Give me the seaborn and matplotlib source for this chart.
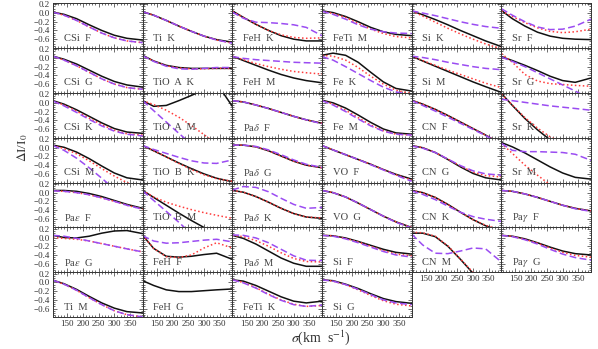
import matplotlib
matplotlib.use("Agg")
import matplotlib.pyplot as plt
import pandas as pd
import seaborn as sns
from matplotlib.ticker import MultipleLocator

# ---------------- data ----------------
SIGMA = [105, 140, 180, 220, 260, 300, 340, 390]

PANELS = [
    ["CSi F", "Ti K", "FeH K", "FeTi M", "Si K", "Sr F"],
    ["CSi G", "TiO A K", "FeH M", "Fe K", "Si M", "Sr G"],
    ["CSi K", "TiO A M", "Paδ F", "Fe M", "CN F", "Sr K"],
    ["CSi M", "TiO B K", "Paδ G", "VO F", "CN G", "Sr M"],
    ["Paε F", "TiO B M", "Paδ K", "VO G", "CN K", "Paγ F"],
    ["Paε G", "FeH F", "Paδ M", "Si F", "CN M", "Paγ G"],
    ["Ti M", "FeH G", "FeTi K", "Si G", None, None],
]

BLACK = {
    "CSi F":   [0.02, -0.03, -0.13, -0.27, -0.40, -0.51, -0.58, -0.62],
    "Ti K":    [0.03, -0.05, -0.17, -0.30, -0.42, -0.53, -0.61, -0.67],
    "FeH K":   [0.05, -0.10, -0.26, -0.40, -0.52, -0.60, -0.64, -0.64],
    "FeTi M":  [0.05, 0.01, -0.08, -0.20, -0.33, -0.43, -0.49, -0.52],
    "Si K":    [0.05, -0.04, -0.15, -0.27, -0.40, -0.52, -0.64, -0.77],
    "Sr F":    [0.06, -0.13, -0.30, -0.44, -0.53, -0.58, -0.60, -0.61],
    "CSi G":   [0.04, -0.03, -0.14, -0.28, -0.42, -0.54, -0.62, -0.67],
    "TiO A K": [0.06, -0.07, -0.17, -0.22, -0.24, -0.24, -0.24, -0.24],
    "FeH M":   [0.04, -0.06, -0.17, -0.28, -0.38, -0.46, -0.52, -0.57],
    "Fe K":    [0.06, 0.11, 0.06, -0.10, -0.33, -0.55, -0.70, -0.76],
    "Si M":    [0.04, -0.07, -0.19, -0.31, -0.43, -0.55, -0.66, -0.79],
    "Sr G":    [0.03, -0.06, -0.17, -0.29, -0.42, -0.52, -0.56, -0.46],
    "CSi K":   [0.05, -0.03, -0.16, -0.31, -0.46, -0.59, -0.67, -0.70],
    "TiO A M": [0.05, -0.08, -0.06, 0.05, 0.17, 0.30, 0.45, -0.08],
    "Paδ F":   [0.05, 0.02, -0.05, -0.13, -0.22, -0.31, -0.39, -0.47],
    "Fe M":    [0.06, 0.00, -0.12, -0.28, -0.45, -0.60, -0.69, -0.72],
    "CN F":    [0.06, -0.03, -0.15, -0.29, -0.44, -0.59, -0.74, -0.95],
    "Sr K":    [0.22, -0.06, -0.36, -0.62, -0.85, -1.05, -1.20, -1.40],
    "CSi M":   [0.06, 0.01, -0.10, -0.25, -0.42, -0.58, -0.69, -0.74],
    "TiO B K": [0.05, -0.07, -0.21, -0.35, -0.48, -0.60, -0.70, -0.78],
    "Paδ G":   [0.06, 0.06, 0.02, -0.07, -0.19, -0.31, -0.40, -0.46],
    "VO F":    [0.05, -0.05, -0.16, -0.27, -0.38, -0.50, -0.61, -0.72],
    "CN G":    [0.05, 0.00, -0.11, -0.27, -0.44, -0.59, -0.69, -0.74],
    "Sr M":    [0.12, 0.02, -0.12, -0.28, -0.44, -0.58, -0.68, -0.72],
    "Paε F":   [0.05, 0.05, 0.03, -0.02, -0.09, -0.18, -0.27, -0.36],
    "TiO B M": [0.05, -0.11, -0.29, -0.47, -0.64, -0.80, -0.96, -1.15],
    "Paδ K":   [0.05, 0.01, -0.09, -0.22, -0.36, -0.48, -0.56, -0.59],
    "VO G":    [0.05, 0.00, -0.10, -0.24, -0.39, -0.54, -0.67, -0.80],
    "CN K":    [0.05, 0.00, -0.11, -0.27, -0.45, -0.62, -0.76, -0.90],
    "Paγ F":   [0.05, 0.03, -0.03, -0.11, -0.20, -0.29, -0.36, -0.42],
    "Paε G":   [0.05, 0.00, -0.01, 0.03, 0.10, 0.15, 0.16, 0.09],
    "FeH F":   [0.05, -0.25, -0.43, -0.45, -0.43, -0.39, -0.36, -0.50],
    "Paδ M":   [0.05, -0.02, -0.15, -0.31, -0.47, -0.59, -0.66, -0.66],
    "Si F":    [0.05, 0.04, -0.01, -0.09, -0.18, -0.27, -0.34, -0.38],
    "CN M":    [0.10, 0.10, 0.02, -0.20, -0.50, -0.82, -1.15, -1.50],
    "Paγ G":   [0.05, 0.03, -0.03, -0.12, -0.22, -0.31, -0.37, -0.40],
    "Ti M":    [0.05, -0.03, -0.16, -0.32, -0.47, -0.59, -0.67, -0.70],
    "FeH G":   [0.04, -0.07, -0.17, -0.21, -0.21, -0.19, -0.17, -0.15],
    "FeTi K":  [0.06, 0.03, -0.07, -0.20, -0.33, -0.43, -0.47, -0.43],
    "Si G":    [0.06, 0.04, -0.04, -0.14, -0.26, -0.37, -0.44, -0.48],
}

RED = {
    "CSi F":   [0.02, -0.05, -0.17, -0.32, -0.46, -0.57, -0.64, -0.68],
    "Ti K":    [0.03, -0.05, -0.17, -0.30, -0.42, -0.53, -0.62, -0.69],
    "FeH K":   [0.04, -0.10, -0.26, -0.40, -0.50, -0.56, -0.58, -0.57],
    "FeTi M":  [0.04, -0.01, -0.10, -0.24, -0.37, -0.47, -0.54, -0.57],
    "Si K":    [0.05, -0.07, -0.21, -0.35, -0.48, -0.60, -0.71, -0.82],
    "Sr F":    [0.05, -0.08, -0.22, -0.34, -0.42, -0.45, -0.43, -0.37],
    "CSi G":   [0.04, -0.05, -0.18, -0.33, -0.48, -0.60, -0.68, -0.72],
    "TiO A K": [0.05, -0.07, -0.18, -0.23, -0.25, -0.25, -0.24, -0.24],
    "FeH M":   [0.04, -0.04, -0.13, -0.20, -0.26, -0.31, -0.34, -0.37],
    "Fe K":    [0.06, 0.04, -0.05, -0.22, -0.42, -0.60, -0.74, -0.82],
    "Si M":    [0.04, -0.06, -0.17, -0.28, -0.38, -0.48, -0.58, -0.68],
    "Sr G":    [0.10, -0.10, -0.38, -0.53, -0.59, -0.61, -0.63, -0.65],
    "CSi K":   [0.04, -0.05, -0.19, -0.35, -0.50, -0.63, -0.71, -0.74],
    "TiO A M": [0.05, -0.04, -0.17, -0.33, -0.52, -0.73, -0.95, -1.20],
    "Paδ F":   [0.05, 0.02, -0.05, -0.13, -0.22, -0.31, -0.39, -0.47],
    "Fe M":    [0.05, -0.03, -0.17, -0.34, -0.51, -0.64, -0.72, -0.74],
    "CN F":    [0.06, -0.03, -0.15, -0.29, -0.44, -0.59, -0.74, -0.95],
    "Sr K":    [0.20, -0.05, -0.34, -0.58, -0.78, -0.92, -1.05, -1.20],
    "CSi M":   [0.05, -0.02, -0.14, -0.30, -0.48, -0.65, -0.80, -0.95],
    "TiO B K": [0.05, -0.07, -0.21, -0.36, -0.50, -0.62, -0.71, -0.77],
    "Paδ G":   [0.06, 0.06, 0.02, -0.07, -0.19, -0.31, -0.40, -0.46],
    "VO F":    [0.05, -0.05, -0.16, -0.27, -0.38, -0.50, -0.62, -0.74],
    "CN G":    [0.05, 0.00, -0.11, -0.26, -0.42, -0.56, -0.64, -0.67],
    "Sr M":    [0.10, -0.13, -0.40, -0.63, -0.85, -1.05, -1.20, -1.40],
    "Paε F":   [0.04, 0.03, 0.00, -0.05, -0.12, -0.20, -0.29, -0.38],
    "TiO B M": [0.05, -0.10, -0.22, -0.31, -0.39, -0.46, -0.52, -0.59],
    "Paδ K":   [0.05, 0.01, -0.09, -0.22, -0.36, -0.48, -0.56, -0.58],
    "VO G":    [0.05, 0.00, -0.10, -0.24, -0.39, -0.54, -0.67, -0.80],
    "CN K":    [0.05, 0.00, -0.11, -0.27, -0.45, -0.62, -0.75, -0.86],
    "Paγ F":   [0.05, 0.03, -0.03, -0.11, -0.20, -0.29, -0.36, -0.42],
    "Paε G":   [0.00, -0.02, -0.04, -0.08, -0.14, -0.20, -0.26, -0.33],
    "FeH F":   [0.05, -0.25, -0.44, -0.46, -0.40, -0.24, -0.12, -0.24],
    "Paδ M":   [0.05, 0.02, -0.07, -0.20, -0.35, -0.48, -0.55, -0.56],
    "Si F":    [0.05, 0.04, -0.02, -0.10, -0.20, -0.30, -0.38, -0.42],
    "CN M":    [0.12, 0.11, 0.03, -0.19, -0.49, -0.80, -1.10, -1.45],
    "Paγ G":   [0.05, 0.03, -0.04, -0.13, -0.24, -0.34, -0.41, -0.45],
    "Ti M":    [0.05, -0.04, -0.18, -0.35, -0.51, -0.65, -0.74, -0.79],
    "FeTi K":  [0.06, 0.00, -0.12, -0.27, -0.40, -0.50, -0.55, -0.53],
    "Si G":    [0.06, 0.03, -0.05, -0.17, -0.30, -0.42, -0.50, -0.54],
}

PURPLE = {
    "CSi F":   [0.02, -0.05, -0.17, -0.32, -0.46, -0.57, -0.64, -0.68],
    "Ti K":    [0.03, -0.05, -0.17, -0.30, -0.42, -0.53, -0.62, -0.69],
    "FeH K":   [0.02, -0.12, -0.21, -0.22, -0.24, -0.27, -0.33, -0.52],
    "FeTi M":  [0.04, -0.03, -0.14, -0.27, -0.37, -0.43, -0.46, -0.47],
    "Si K":    [0.05, 0.00, -0.06, -0.13, -0.20, -0.26, -0.31, -0.35],
    "Sr F":    [0.10, -0.05, -0.20, -0.32, -0.38, -0.37, -0.30, -0.14],
    "CSi G":   [0.04, -0.05, -0.18, -0.33, -0.48, -0.60, -0.68, -0.72],
    "TiO A K": [0.05, -0.08, -0.19, -0.25, -0.26, -0.24, -0.22, -0.22],
    "FeH M":   [0.03, -0.01, -0.04, -0.06, -0.08, -0.10, -0.11, -0.12],
    "Fe K":    [0.03, -0.05, -0.20, -0.36, -0.52, -0.67, -0.78, -0.85],
    "Si M":    [0.04, 0.01, -0.04, -0.10, -0.15, -0.20, -0.24, -0.27],
    "Sr G":    [0.02, -0.08, -0.20, -0.34, -0.48, -0.62, -0.76, -0.95],
    "CSi K":   [0.04, -0.07, -0.22, -0.38, -0.53, -0.65, -0.72, -0.76],
    "TiO A M": [0.05, -0.18, -0.44, -0.70, -0.95, -1.20, -1.45, -1.75],
    "Paδ F":   [0.05, 0.02, -0.05, -0.13, -0.22, -0.31, -0.39, -0.48],
    "Fe M":    [0.05, -0.05, -0.20, -0.37, -0.53, -0.65, -0.72, -0.74],
    "CN F":    [0.05, -0.06, -0.19, -0.33, -0.47, -0.61, -0.75, -0.95],
    "Sr K":    [0.08, 0.05, 0.01, -0.03, -0.07, -0.10, -0.13, -0.17],
    "CSi M":   [0.05, -0.06, -0.24, -0.46, -0.70, -0.95, -1.20, -1.50],
    "TiO B K": [0.05, -0.04, -0.13, -0.22, -0.30, -0.35, -0.36, -0.28],
    "Paδ G":   [0.06, 0.06, 0.03, -0.05, -0.16, -0.28, -0.38, -0.45],
    "VO F":    [0.05, -0.05, -0.16, -0.27, -0.39, -0.51, -0.63, -0.77],
    "CN G":    [0.04, -0.01, -0.11, -0.26, -0.41, -0.53, -0.60, -0.63],
    "Sr M":    [0.10, -0.06, -0.09, -0.09, -0.10, -0.11, -0.15, -0.29],
    "Paε F":   [0.04, 0.03, 0.00, -0.05, -0.12, -0.20, -0.29, -0.38],
    "TiO B M": [0.04, -0.18, -0.43, -0.68, -0.95, -1.20, -1.45, -1.80],
    "Paδ K":   [0.06, 0.14, 0.12, 0.02, -0.13, -0.27, -0.36, -0.34],
    "VO G":    [0.05, 0.00, -0.10, -0.24, -0.39, -0.54, -0.68, -0.81],
    "CN K":    [0.04, -0.04, -0.16, -0.31, -0.45, -0.55, -0.61, -0.66],
    "Paγ F":   [0.05, 0.03, -0.03, -0.11, -0.20, -0.29, -0.37, -0.43],
    "Paε G":   [0.05, 0.03, -0.02, -0.08, -0.14, -0.20, -0.26, -0.33],
    "FeH F":   [0.04, -0.08, -0.13, -0.12, -0.09, -0.06, -0.04, -0.10],
    "Paδ M":   [0.06, 0.05, -0.01, -0.12, -0.27, -0.42, -0.52, -0.53],
    "Si F":    [0.05, 0.03, -0.03, -0.12, -0.22, -0.32, -0.40, -0.45],
    "CN M":    [0.08, -0.17, -0.36, -0.37, -0.31, -0.24, -0.26, -0.56],
    "Paγ G":   [0.05, 0.02, -0.05, -0.15, -0.27, -0.38, -0.46, -0.52],
    "Ti M":    [0.05, -0.04, -0.18, -0.35, -0.51, -0.65, -0.74, -0.79],
    "FeTi K":  [0.06, -0.01, -0.13, -0.28, -0.41, -0.51, -0.55, -0.52],
    "Si G":    [0.06, 0.03, -0.05, -0.16, -0.28, -0.40, -0.47, -0.51],
}

X_TICKS = [150, 200, 250, 300, 350]
Y_TICKS = [-0.6, -0.4, -0.2, 0.0, 0.2]

# ---------------- style ----------------
sns.set_style("ticks")
plt.rcParams["font.family"] = ["Liberation Serif", "DejaVu Serif"]
plt.rcParams["mathtext.fontset"] = "stix"

COLORS = {"black": "#111111", "red": "#ff3b3b", "purple": "#9b4cf2"}
DASHES = {"black": "", "red": (1, 1.6), "purple": (4.5, 2.2)}

W, H = 598, 349
fig = plt.figure(figsize=(W / 100, H / 100), dpi=100)

LEFT, RIGHT, TOP, ROWH = 53, 591, 3, 44.9
COLW = (RIGHT - LEFT) / 6
XLIM = (105, 390)
YLIM = (-0.8, 0.23)


def pretty(name):
    name = name.replace("δ", r"$\delta$").replace("ε", r"$\epsilon$").replace("γ", r"$\gamma$")
    return name.replace(" ", "  ")


nrows = len(PANELS)
for r, row in enumerate(PANELS):
    for c, name in enumerate(row):
        if name is None:
            continue
        x0 = LEFT + c * COLW
        y0 = TOP + (r + 1) * ROWH
        ax = fig.add_axes([x0 / W, 1 - y0 / H, COLW / W, ROWH / H])
        frames = []
        for key, table in (("black", BLACK), ("red", RED), ("purple", PURPLE)):
            if name in table:
                frames.append(pd.DataFrame({"sigma": SIGMA, "dI": table[name], "model": key}))
        df = pd.concat(frames, ignore_index=True)
        models = list(df["model"].unique())
        sns.lineplot(data=df, x="sigma", y="dI", hue="model", style="model",
                     palette={m: COLORS[m] for m in models},
                     dashes={m: DASHES[m] for m in models},
                     hue_order=models, style_order=models,
                     linewidth=1.1, legend=False, ax=ax, sort=False)
        ax.set_xlim(*XLIM)
        ax.set_ylim(*YLIM)
        ax.set_xlabel("")
        ax.set_ylabel("")
        ax.set_xticks(X_TICKS)
        ax.set_yticks(Y_TICKS)
        ax.xaxis.set_minor_locator(MultipleLocator(10))
        ax.yaxis.set_minor_locator(MultipleLocator(0.05))
        ax.tick_params(which="both", direction="in", top=True, right=True,
                       width=0.5, colors="#333333", labelsize=6.5, pad=2)
        ax.tick_params(which="major", length=3)
        ax.tick_params(which="minor", length=1.5)
        for s in ax.spines.values():
            s.set_linewidth(0.7)
            s.set_color("#333333")
        last_in_col = (r == nrows - 1) or (PANELS[r + 1][c] is None)
        if last_in_col:
            ax.set_xticklabels([str(t) for t in X_TICKS])
        else:
            ax.set_xticklabels([])
        if c == 0:
            ax.set_yticklabels([f"{t:.1f}".replace("-", "\u2212") for t in Y_TICKS])
        else:
            ax.set_yticklabels([])
        ax.text(0.12, 0.22, pretty(name), transform=ax.transAxes, ha="left",
                va="center", fontsize=7.6, color="#444444")

fig.text(23 / W, 1 - 148 / H, r"$\Delta$I/I$_0$", rotation=90, ha="center",
         va="center", fontsize=9.5, color="#333333")
fig.text(321 / W, 1 - 338 / H, r"$\sigma$(km  s$^{-1}$)", ha="center",
         va="center", fontsize=10, color="#333333")

fig.savefig("out.png", dpi=100)
